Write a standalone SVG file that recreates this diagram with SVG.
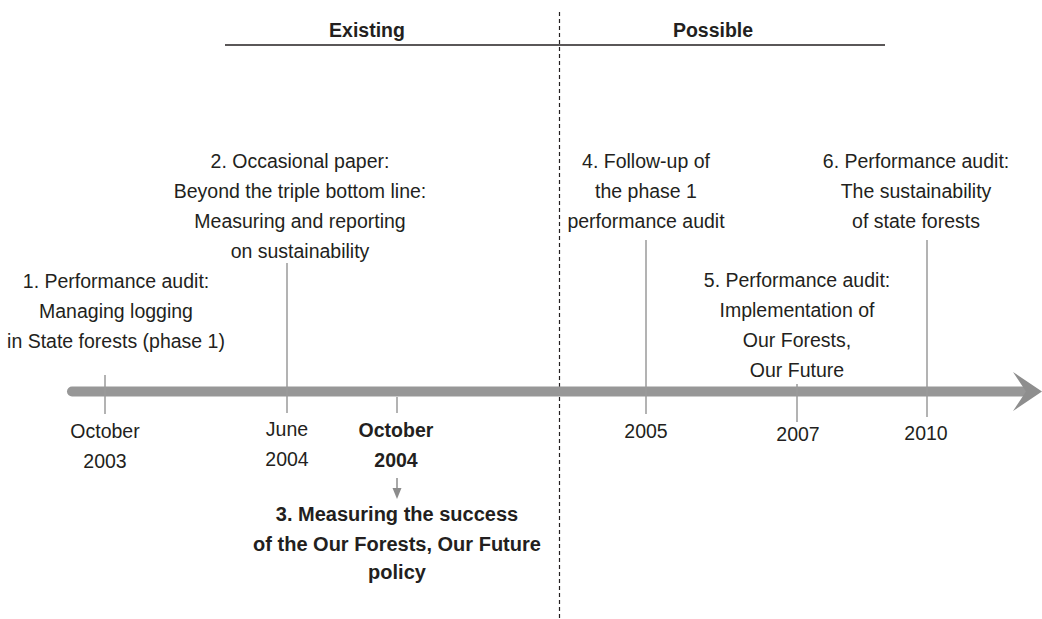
<svg xmlns="http://www.w3.org/2000/svg" width="1042" height="619" viewBox="0 0 1042 619">
  <style>
    text { font-family: "Liberation Sans", Arial, sans-serif; fill: #231f20; text-anchor: middle; }
    .t { font-size: 19.5px; }
    .b { font-size: 19.5px; font-weight: bold; }
    .tick { stroke: #9a9a9a; stroke-width: 1.5; fill: none; }
  </style>
  <rect width="1042" height="619" fill="#ffffff"/>

  <g id="header">
    <line x1="225" y1="45" x2="885" y2="45" stroke="#231f20" stroke-width="1.6"/>
    <text class="b" x="367" y="37">Existing</text>
    <text class="b" x="713" y="37">Possible</text>
  </g>

  <g id="divider">
    <line x1="559.5" y1="12" x2="559.5" y2="619" stroke="#231f20" stroke-width="1.2" stroke-dasharray="4 3"/>
  </g>

  <g id="timeline">
    <path d="M72,386.5 L1028,386.5 L1028,396.5 L72,396.5 A5,5 0 0 1 72,386.5 Z" fill="#979797"/>
    <polygon points="1013,372 1042,391.5 1013,411 1026,391.5" fill="#8e8e8e"/>
  </g>

  <g id="connectors">
    <line class="tick" x1="105" y1="375" x2="105" y2="414"/>
    <line class="tick" x1="287" y1="263" x2="287" y2="413"/>
    <line class="tick" x1="397" y1="397" x2="397" y2="413"/>
    <line class="tick" x1="646" y1="240" x2="646" y2="414"/>
    <line class="tick" x1="797" y1="384" x2="797" y2="422"/>
    <line class="tick" x1="927" y1="240" x2="927" y2="417"/>
    <line x1="397" y1="478" x2="397" y2="489" stroke="#8c8c8c" stroke-width="1.5"/>
    <polygon points="392.5,488 401.5,488 397,499" fill="#8c8c8c"/>
  </g>

  <g id="node1">
    <text class="t" x="116" y="288">1. Performance audit:</text>
    <text class="t" x="116" y="318">Managing logging</text>
    <text class="t" x="116" y="348">in State forests (phase 1)</text>
  </g>
  <g id="node2">
    <text class="t" x="300" y="168">2. Occasional paper:</text>
    <text class="t" x="300" y="198">Beyond the triple bottom line:</text>
    <text class="t" x="300" y="228">Measuring and reporting</text>
    <text class="t" x="300" y="258">on sustainability</text>
  </g>
  <g id="node3">
    <text class="b" x="397" y="521" style="font-size:20px">3. Measuring the success</text>
    <text class="b" x="397" y="551" style="font-size:20px">of the Our Forests, Our Future</text>
    <text class="b" x="397" y="579" style="font-size:20px">policy</text>
  </g>
  <g id="node4">
    <text class="t" x="646" y="168">4. Follow-up of</text>
    <text class="t" x="646" y="198">the phase 1</text>
    <text class="t" x="646" y="228">performance audit</text>
  </g>
  <g id="node5">
    <text class="t" x="797" y="287">5. Performance audit:</text>
    <text class="t" x="797" y="317">Implementation of</text>
    <text class="t" x="797" y="347">Our Forests,</text>
    <text class="t" x="797" y="377">Our Future</text>
  </g>
  <g id="node6">
    <text class="t" x="916" y="168">6. Performance audit:</text>
    <text class="t" x="916" y="198">The sustainability</text>
    <text class="t" x="916" y="228">of state forests</text>
  </g>

  <g id="dates">
    <text class="t" x="105" y="438">October</text>
    <text class="t" x="105" y="468">2003</text>
    <text class="t" x="287" y="436">June</text>
    <text class="t" x="287" y="466">2004</text>
    <text class="b" x="396" y="437">October</text>
    <text class="b" x="396" y="467">2004</text>
    <text class="t" x="646" y="438">2005</text>
    <text class="t" x="798" y="441">2007</text>
    <text class="t" x="926" y="440">2010</text>
  </g>
</svg>
